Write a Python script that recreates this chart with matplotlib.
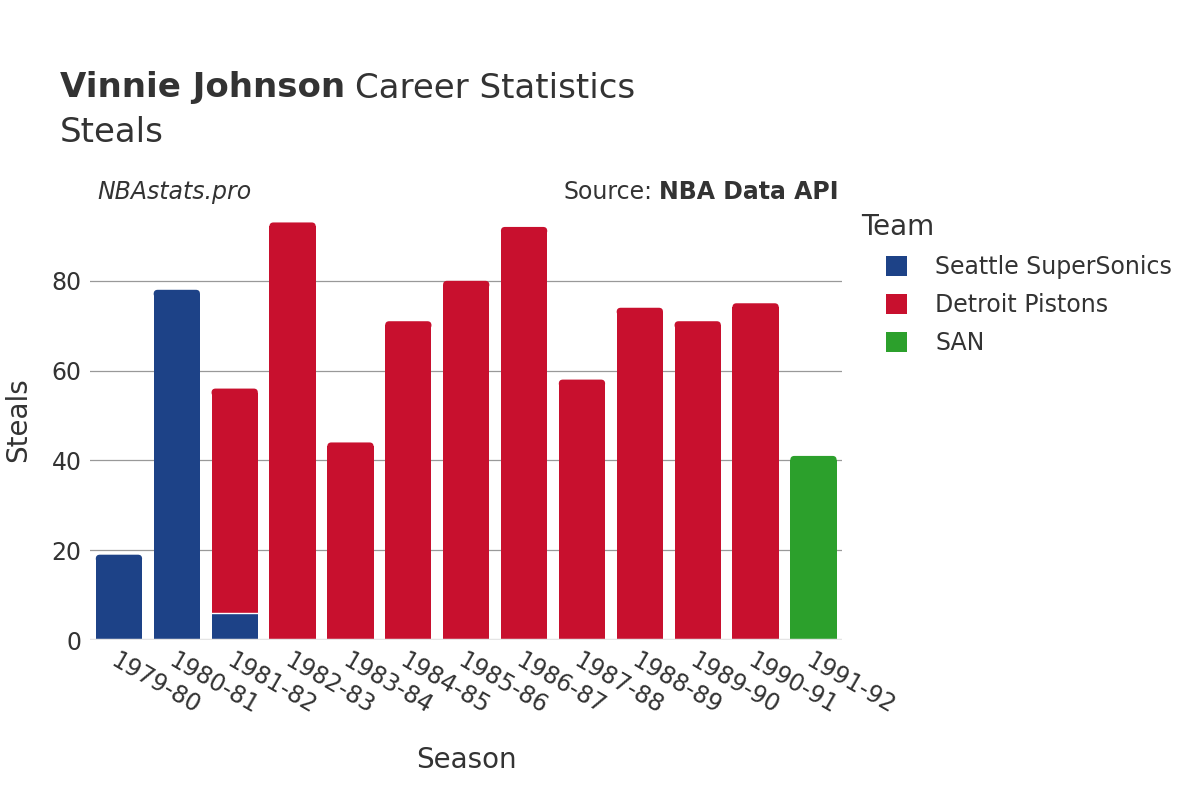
import matplotlib.pyplot as plt
from matplotlib.patches import FancyBboxPatch
import numpy as np

plt.rcParams['font.family'] = ['DejaVu Sans']

# Steals per season, split by team
seasons = ["1979-80", "1980-81", "1981-82", "1982-83", "1983-84", "1984-85", "1985-86",
           "1986-87", "1987-88", "1988-89", "1989-90", "1990-91", "1991-92"]
seattle = [19, 78, 6, 0, 0, 0, 0, 0, 0, 0, 0, 0, 0]
detroit = [0, 0, 50, 93, 44, 71, 80, 92, 58, 74, 71, 75, 0]
san = [0, 0, 0, 0, 0, 0, 0, 0, 0, 0, 0, 0, 41]

teams = ["Seattle SuperSonics", "Detroit Pistons", "SAN"]
colors = ["#1D4287", "#C8102E", "#2CA02C"]

fig = plt.figure(figsize=(12, 8), dpi=100)
ax = fig.add_axes([0.075, 0.2, 0.627, 0.55])
ymax = 98

x = np.arange(len(seasons))
bottom = np.zeros(len(seasons))
totals = np.array(seattle) + np.array(detroit) + np.array(san)
# corner radius, in data units
rx = 0.07
ry = rx * 12.8
for name, vals, c in zip(teams, [seattle, detroit, san], colors):
    vals = np.array(vals)
    bars = ax.bar(x, vals, 0.8, bottom=bottom, color=c, linewidth=0,
                  label=name, zorder=3)
    for i, rect in enumerate(bars.patches):
        if vals[i] == 0:
            continue
        if bottom[i] + vals[i] == totals[i]:
            # round the top corners of the topmost segment
            rect.set_height(vals[i] - ry)
            ax.add_patch(FancyBboxPatch((rect.get_x(), bottom[i] + vals[i] - 2 * ry),
                                        rect.get_width(), 2 * ry,
                                        boxstyle=f"round,pad=0,rounding_size={rx}",
                                        mutation_aspect=ry / rx, facecolor=c,
                                        edgecolor="none", linewidth=0, zorder=3))
        else:
            # thin white line between stacked segments
            ax.plot([rect.get_x(), rect.get_x() + rect.get_width()],
                    [bottom[i] + vals[i]] * 2, color="white", linewidth=1, zorder=3.5)
    bottom += vals

ax.set_xlim(-0.5, len(seasons) - 0.5)
ax.set_ylim(0, ymax)
ax.set_yticks([0, 20, 40, 60, 80])
ax.yaxis.grid(True, color="#999999", linewidth=0.9, zorder=0)
ax.axhline(0, color="#e5e5e5", linewidth=2.5, zorder=4)
for s in ax.spines.values():
    s.set_visible(False)
ax.tick_params(axis="both", length=0, labelsize=17, colors="#333333")
ax.tick_params(axis="y", pad=6)
ax.tick_params(axis="x", pad=6)
ax.set_xticks(x)
ax.set_xticklabels(seasons, rotation=-30, ha="left", rotation_mode="anchor")
ax.set_xlabel("Season", fontsize=20, color="#333333", labelpad=20)
ax.set_ylabel("Steals", fontsize=20, color="#333333", labelpad=14)

fig.canvas.draw()
r = fig.canvas.get_renderer()
t1 = fig.text(0.05, 0.89, "Vinnie Johnson", fontsize=24.5, fontweight="bold", color="#333333", va="center")
w = t1.get_window_extent(r).width / fig.bbox.width
fig.text(0.05 + w + 0.008, 0.89, "Career Statistics", fontsize=24.5, color="#333333", va="center")
fig.text(0.05, 0.835, "Steals", fontsize=24.5, color="#333333", va="center")
fig.text(0.081, 0.76, "NBAstats.pro", fontsize=17, style="italic", color="#333333", va="center")
t2 = fig.text(0.699, 0.76, "NBA Data API", fontsize=17, fontweight="bold", color="#333333",
              va="center", ha="right")
w2 = t2.get_window_extent(r).width / fig.bbox.width
fig.text(0.699 - w2 - 0.006, 0.76, "Source:", fontsize=17, color="#333333", va="center", ha="right")

# legend, with its title as a separate text
fig.text(0.7175, 0.716, "Team", fontsize=20, color="#333333", va="center")
leg = fig.legend(loc="upper left", bbox_to_anchor=(0.7205, 0.708), frameon=False,
                 fontsize=17, handlelength=0.9, handleheight=0.9,
                 handletextpad=1.2, labelspacing=0.6, borderpad=0.4)
for t in leg.get_texts():
    t.set_color("#333333")

fig.savefig("out.png", dpi=100)
